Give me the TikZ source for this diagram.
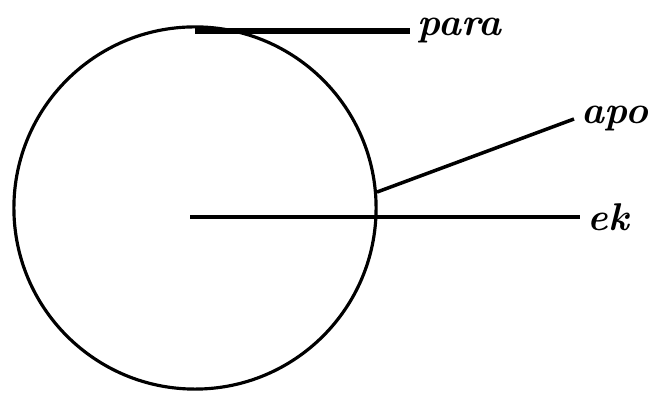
\documentclass[tikz,border=0pt]{standalone}
\usetikzlibrary{positioning}

\begin{document}
\begin{tikzpicture}[
    x=0.01cm, y=-0.01cm,
    ball/.style={draw, circle, line width=0.9pt, minimum size=3.62cm, inner sep=0pt},
    lbl/.style={anchor=west, inner sep=2pt, font=\fontsize{11}{13}\selectfont\bfseries\itshape},
    wire/.style={line width=1pt}
  ]
    \useasboundingbox (0,0) rectangle (651,398);
    \node[ball] (B) at (195,208) {};
    \node[lbl] (para) at (410,31) {para};
    \node[lbl] (apo) at (574,119) {apo};
    \node[lbl] (ek) at (580,217) {ek};
    \coordinate (hub) at (190,217);
    \draw[line width=1.5pt] (para.west -| B.north) -- (para.west);
    \draw[wire] (B.5) -- (apo.west);
    \draw[wire] (hub) -- (ek.west);
  \end{tikzpicture}
\end{document}
